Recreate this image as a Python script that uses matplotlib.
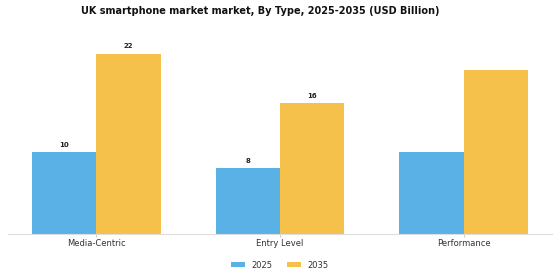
import matplotlib
matplotlib.use("Agg")
import matplotlib.pyplot as plt
import numpy as np

categories = ["Media-Centric", "Entry Level", "Performance"]
years = ["2025", "2035"]
values_2025 = [10, 8, 10]
values_2035 = [22, 16, 20]
labels_2025 = ["10", "8", ""]
labels_2035 = ["22", "16", ""]
colors = ["#5AB1E6", "#F6C14A"]

fig = plt.figure(figsize=(5.6, 2.8), dpi=100)
ax = fig.add_axes([8/560, 1 - 234/280, 544/560, 189/280])

x = np.arange(len(categories))
w = 0.35
b1 = ax.bar(x - w/2, values_2025, w, color=colors[0], label=years[0])
b2 = ax.bar(x + w/2, values_2035, w, color=colors[1], label=years[1])

for bars, labs in ((b1, labels_2025), (b2, labels_2035)):
    for bar, lab in zip(bars, labs):
        if lab:
            ax.annotate(lab, (bar.get_x() + bar.get_width()/2, bar.get_height()),
                        xytext=(0, 3), textcoords="offset points",
                        ha="center", va="bottom", fontsize=5, fontweight="bold",
                        color="#222222")

ax.set_xlim(-0.48, 2.48)
ax.set_ylim(0, 23.05)
ax.set_xticks(x)
ax.set_xticklabels(categories, fontsize=6, color="#333333")
ax.tick_params(axis="x", length=2, color="#cccccc", pad=1.5)
ax.set_yticks([])
for s in ["top", "right", "left"]:
    ax.spines[s].set_visible(False)
ax.spines["bottom"].set_color("#dddddd")
ax.spines["bottom"].set_linewidth(0.8)

fig.text(260/560, 1 - 11/280, "UK smartphone market market, By Type, 2025-2035 (USD Billion)",
         fontsize=7, fontweight="bold", ha="center", va="center", color="#111111")

fig.legend(loc="center", ncol=2, frameon=False, fontsize=6,
           bbox_to_anchor=(0.5, 1 - 265/280), handlelength=1.6, handleheight=0.6,
           columnspacing=1.8, handletextpad=0.8, labelcolor="#333333")

fig.savefig("out.png", dpi=100)
